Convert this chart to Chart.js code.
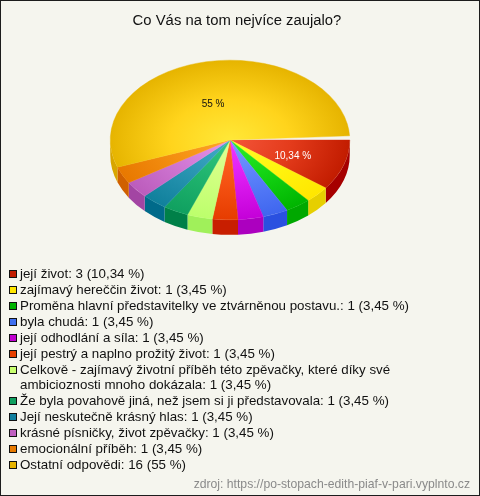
<!DOCTYPE html>
<html>
<head>
<meta charset="utf-8">
<title>Co Vás na tom nejvíce zaujalo?</title>
<script src="https://cdn.jsdelivr.net/npm/chart.js@4"></script>
<style>
    html, body { margin: 0; padding: 0; }
    #page { position: relative; width: 480px; height: 496px; box-sizing: border-box; border: 1px solid #1c1c1c; background: #f5f5ee; overflow: hidden; font-family: "Liberation Sans", Arial, sans-serif; color: #111; }
    #chart { position: absolute; left: -1px; top: -1px; }
    #legend { position: absolute; left: 8px; top: 265px; width: 440px; margin: 0; padding: 0; list-style: none; font-size: 13.33px; line-height: 15px; }
    #legend li { position: relative; padding-left: 11px; margin-bottom: 1px; }
    #legend i { position: absolute; left: 0; top: 4px; width: 6px; height: 6px; border: 1px solid #111; }
    #source { position: absolute; right: 9px; top: 476px; font-size: 12.2px; line-height: 14px; color: #8a8a8a; }
</style>
</head>
<body>
<div id="page">
    <canvas id="chart" width="474" height="496"></canvas>
    <ul id="legend"></ul>
    <div id="source">zdroj: https://po-stopach-edith-piaf-v-pari.vyplnto.cz</div>
</div>
<script>
const titleText = 'Co Vás na tom nejvíce zaujalo?';
const labels = [
    'její život',
    'zajímavý hereččin život',
    'Proměna hlavní představitelky ve ztvárněnou postavu.',
    'byla chudá',
    'její odhodlání a síla',
    'její pestrý a naplno prožitý život',
    'Celkově - zajímavý životní příběh této zpěvačky, které díky své ambicioznosti mnoho dokázala',
    'Že byla povahově jiná, než jsem si ji představovala',
    'Její neskutečně krásný hlas',
    'krásné písničky, život zpěvačky',
    'emocionální příběh',
    'Ostatní odpovědi'
];
const values = [3, 1, 1, 1, 1, 1, 1, 1, 1, 1, 1, 16];
const percents = ['10,34', '3,45', '3,45', '3,45', '3,45', '3,45', '3,45', '3,45', '3,45', '3,45', '3,45', '55'];
const sliceLabels = ['10,34 %', '', '', '', '', '', '', '', '', '', '', '55 %'];
const sliceLabelColors = ['#fff', '', '', '', '', '', '', '', '', '', '', '#111'];

const swatchColors = ['#c21c00', '#ffe600', '#00b400', '#3f6ff0', '#c000d0', '#e84000', '#c8ff70', '#10a060', '#107f9f', '#c060c0', '#e87a00', '#e8b400'];
const innerColors = ['#f4553a', '#ffff2a', '#2cf02c', '#7a9cff', '#f038ff', '#ff6a28', '#e0ff96', '#34c880', '#44aec8', '#ea96ea', '#ffa626', '#ffe838'];
const midColors = ['#e43c1c', '#fff510', '#14d414', '#5a80fa', '#dc1cf0', '#f65414', '#d0ff80', '#20b46e', '#2a96b2', '#d078d4', '#f49012', '#ffd41c'];
const outerColors = ['#c21c00', '#ffe600', '#00b400', '#3f66ee', '#c400d8', '#e63c00', '#bcff6c', '#10a060', '#10809c', '#bc5cbc', '#e87800', '#e6b400'];
const sideColors = ['#a60000', '#e6cf00', '#00a800', '#2a50e0', '#ac00bf', '#c81e00', '#a0f05a', '#008048', '#006a8a', '#a345a3', '#d06000', '#d8a600'];

// where the tilted pie sits on the page
const pieX = 230;
const pieY = 140;
const tilt = 2 / 3;
const pieDepth = 15;

function sliceFill(c) {
    const area = c.chart.chartArea;
    if (!area) return outerColors[c.dataIndex];
    const x = (area.left + area.right) / 2;
    const y = (area.top + area.bottom) / 2;
    const g = c.chart.ctx.createRadialGradient(x, y, 0, x, y, (area.right - area.left) / 2);
    g.addColorStop(0, innerColors[c.dataIndex]);
    g.addColorStop(0.5, midColors[c.dataIndex]);
    g.addColorStop(1, outerColors[c.dataIndex]);
    return g;
}

const tiltedPie = {
    id: 'tiltedPie',
    beforeDatasetsDraw(chart) {
        const ctx = chart.ctx;
        const arcs = chart.getDatasetMeta(0).data;
        // side wall first, only the front half can be seen
        arcs.forEach((arc, i) => {
            const a0 = arc.startAngle;
            const a1 = Math.min(arc.endAngle, Math.PI);
            if (a0 >= Math.PI) return;
            ctx.fillStyle = sideColors[i];
            ctx.beginPath();
            ctx.ellipse(pieX, pieY, arc.outerRadius, arc.outerRadius * tilt, 0, a0, a1);
            ctx.ellipse(pieX, pieY + pieDepth, arc.outerRadius, arc.outerRadius * tilt, 0, a1, a0, true);
            ctx.closePath();
            ctx.fill();
        });
        const first = arcs[0];
        ctx.save();
        ctx.translate(pieX, pieY);
        ctx.scale(1, tilt);
        ctx.translate(-first.x, -first.y);
    },
    afterDatasetsDraw(chart) {
        const ctx = chart.ctx;
        ctx.restore();
        const arcs = chart.getDatasetMeta(0).data;
        ctx.font = '10px "Liberation Sans", Arial, sans-serif';
        ctx.textAlign = 'center';
        ctx.textBaseline = 'middle';
        arcs.forEach((arc, i) => {
            if (!sliceLabels[i]) return;
            const p = arc.getCenterPoint();
            // the big slices carry their label a little off the mid angle
            const nudgeX = i === 0 ? 6 : -5;
            const nudgeY = i === 0 ? 4 : 3;
            ctx.fillStyle = sliceLabelColors[i];
            ctx.fillText(sliceLabels[i], pieX + p.x - arc.x + nudgeX, pieY + (p.y - arc.y) * tilt + nudgeY);
        });
    }
};

const chart = new Chart(document.getElementById('chart'), {
    type: 'pie',
    data: {
        labels: labels,
        datasets: [{
            data: values,
            backgroundColor: sliceFill,
            borderColor: sliceFill,
            borderWidth: 0.5,
            clip: false
        }]
    },
    options: {
        responsive: false,
        animation: false,
        rotation: 90,
        circumference: 357,
        layout: { padding: { left: 117, right: 117, top: 0, bottom: 216 } },
        plugins: {
            legend: { display: false },
            tooltip: { enabled: false },
            title: {
                display: true,
                text: titleText,
                color: '#111',
                font: { family: '"Liberation Sans", Arial, sans-serif', size: 14.85, weight: 'normal' },
                padding: { top: 12, bottom: 10 }
            }
        }
    },
    plugins: [tiltedPie]
});

const legendEl = document.getElementById('legend');
labels.forEach((label, i) => {
    const li = document.createElement('li');
    const box = document.createElement('i');
    box.style.background = swatchColors[i];
    li.appendChild(box);
    li.appendChild(document.createTextNode(`${label}: ${values[i]} (${percents[i]} %)`));
    legendEl.appendChild(li);
});
</script>
</body>
</html>
